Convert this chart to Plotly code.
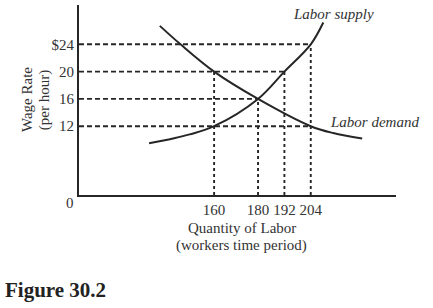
import plotly.graph_objects as go

# ---- data ----
supply_q = [130.4, 141.3, 148.9, 160, 180, 192, 204, 209.7]
supply_w = [9.5, 10.2, 10.8, 12, 16, 20, 24, 27.2]
demand_q = [135.3, 144.7, 160, 180, 204, 214.2, 227.4]
demand_w = [26.7, 24, 20, 16, 12, 11.0, 10.2]

# guide lines: horizontal wage levels and where they end on the curves
guide_wages = [24, 20, 16, 12]
guide_wage_end_q = [204, 192, 180, 204]
# vertical quantity levels and where they meet the curves
guide_qty = [160, 180, 192, 204]
guide_qty_top_w = [20, 16, 20, 24]

x_ticks = [160, 180, 192, 204]
x_tick_text = ["160", "180", "192", "204"]
y_ticks = [12, 16, 20, 24]
y_tick_text = ["12", "16", "20", "$24"]

X_RANGE = [98.5, 242.8]
Y_RANGE = [1.92, 29.76]

FONT = "Liberation Serif, Times New Roman, serif"
INK = "#262626"
TXT = "#333333"

fig = go.Figure()

for w, qe in zip(guide_wages, guide_wage_end_q):
    fig.add_trace(go.Scatter(x=[X_RANGE[0], qe], y=[w, w], mode="lines",
                             line=dict(color=INK, width=1.9, dash="5px,3px"),
                             hoverinfo="skip", showlegend=False))
for q, wt in zip(guide_qty, guide_qty_top_w):
    fig.add_trace(go.Scatter(x=[q, q], y=[Y_RANGE[0], wt], mode="lines",
                             line=dict(color=INK, width=1.9, dash="3px,3px"),
                             hoverinfo="skip", showlegend=False))

fig.add_trace(go.Scatter(x=supply_q, y=supply_w, mode="lines",
                         line=dict(color=INK, width=2, shape="spline"),
                         showlegend=False, name="Labor supply"))
fig.add_trace(go.Scatter(x=demand_q, y=demand_w, mode="lines",
                         line=dict(color=INK, width=2, shape="spline"),
                         showlegend=False, name="Labor demand"))

fig.update_layout(
    width=433, height=308,
    margin=dict(l=79, r=37, t=5, b=113),
    paper_bgcolor="white", plot_bgcolor="white",
    font=dict(family=FONT, size=15, color=TXT),
)
fig.update_xaxes(range=X_RANGE, showgrid=False, zeroline=False,
                 showline=True, linecolor=INK, linewidth=2,
                 tickvals=x_ticks, ticktext=x_tick_text, ticks="",
                 tickfont=dict(family=FONT, size=15, color=TXT))
fig.update_yaxes(range=Y_RANGE, showgrid=False, zeroline=False,
                 showline=True, linecolor=INK, linewidth=2,
                 tickvals=y_ticks, ticktext=y_tick_text, ticks="",
                 tickfont=dict(family=FONT, size=15, color=TXT))

ann = [
    dict(text="Wage Rate", x=-0.164, y=0.5, textangle=-90),
    dict(text="(per hour)", x=-0.110, y=0.5, textangle=-90),
    dict(text="Quantity of Labor", x=0.514, y=-0.174),
    dict(text="(workers time period)", x=0.514, y=-0.268),
    dict(text="0", x=-0.028, y=-0.042),
    dict(text="<i>Labor supply</i>", x=0.804, y=0.953),
    dict(text="<i>Labor demand</i>", x=0.931, y=0.384),
]
for a in ann:
    fig.add_annotation(xref="paper", yref="paper", showarrow=False,
                       xanchor="center", yanchor="middle",
                       font=dict(family=FONT, size=15, color=TXT), **a)
fig.add_annotation(xref="paper", yref="paper", showarrow=False,
                   text="<b>Figure 30.2</b>", x=-0.240, y=-0.5,
                   xanchor="left", yanchor="middle",
                   font=dict(family=FONT, size=21, color="#222"))

fig.write_html("out.html")
